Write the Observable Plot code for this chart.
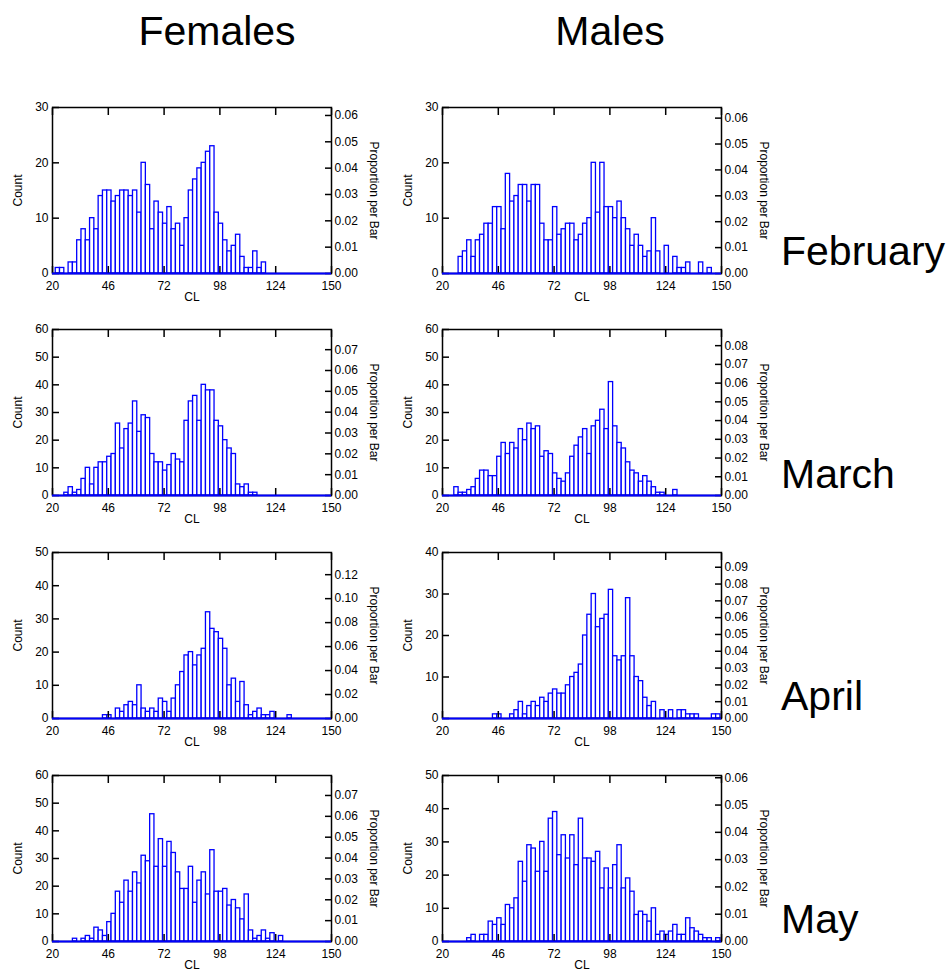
<!DOCTYPE html>
<html>
<head>
<meta charset="utf-8">
<script src="https://cdn.jsdelivr.net/npm/d3@7"></script>
<script src="https://cdn.jsdelivr.net/npm/@observablehq/plot@0.6"></script>
<style>
  body { margin: 0; background: #fff; }
  #root { position: relative; width: 946px; height: 974px; overflow: hidden; background: #fff;
          font-family: "Liberation Sans", Arial, sans-serif; }
  .panel { position: absolute; }
  .panel svg { background: transparent !important; }
  #labels { position: absolute; left: 0; top: 0; pointer-events: none; }
</style>
</head>
<body>
<div id="root"></div>
<script>
// ---- data (counts per 2-unit CL bin) ----
const binEdges = [21.5,23.5,25.5,27.5,29.5,31.5,33.5,35.5,37.5,39.5,41.5,43.5,45.5,47.5,49.5,51.5,
  53.5,55.5,57.5,59.5,61.5,63.5,65.5,67.5,69.5,71.5,73.5,75.5,77.5,79.5,81.5,83.5,85.5,87.5,89.5,
  91.5,93.5,95.5,97.5,99.5,101.5,103.5,105.5,107.5,109.5,111.5,113.5,115.5,117.5,119.5,121.5,123.5,
  125.5,127.5,129.5,131.5,133.5,135.5,137.5,139.5,141.5,143.5,145.5,147.5,149.5];

const femFeb = [1,1,0,2,2,6,8,6,10,8, 14,15,15,13,14,15,15,14,15,11, 20,16,8,13,11,9,12,8,9,5,
  10,15,17,19,20,22,23,11,9,6, 4,5,7,3,1,1,4,1,2,0, 0,0,0,0,0,0,0,0,0,0, 0,0,0,0];
const malFeb = [0,0,0,3,4,6,3,6,7,9, 9,12,12,8,18,13,14,16,16,13, 16,16,9,6,6,12,7,8,9,9,
  6,7,9,10,20,11,20,12,12,10, 13,10,8,5,7,5,3,4,10,4, 0,5,0,3,1,1,2,0,0,2, 0,1,0,0];
const femMar = [0,0,1,3,1,2,6,10,4,10, 12,12,14,15,26,17,24,26,34,23, 29,28,15,12,12,9,11,15,13,12,
  27,34,36,27,40,38,38,27,25,20, 17,15,4,3,4,1,1,0,0,0, 0,0,0,0,0,0,0,0,0,0, 0,0,0,0];
const malMar = [0,0,3,1,1,2,3,6,9,9, 7,7,14,19,15,19,17,24,20,26, 24,25,14,16,15,8,6,5,8,14,
  18,21,24,15,25,27,31,24,41,25, 19,17,12,9,8,5,7,5,3,1, 1,0,0,2,0,0,0,0,0,0, 0,0,0,0];
const femApr = [0,0,0,0,0,0,0,0,0,0, 0,1,1,0,3,2,4,5,4,10, 3,2,3,2,6,5,2,6,10,14,
  19,20,16,19,21,32,27,26,24,21, 10,12,5,11,4,1,2,3,1,1, 2,0,0,0,1,0,0,0,0,0, 0,0,0,0];
const malApr = [0,0,0,0,0,0,0,0,0,0, 0,1,1,0,0,1,2,4,1,3, 4,3,5,4,6,7,6,6,8,10,
  11,13,20,25,30,22,24,25,31,15, 14,15,29,15,10,9,5,3,4,0, 2,0,2,0,2,2,1,1,1,0, 0,0,1,1];
const femMay = [0,0,0,0,1,0,1,2,1,5, 4,2,7,10,18,14,22,18,25,21, 31,29,46,27,37,27,36,32,25,19,
  19,27,14,22,25,17,33,18,18,19, 13,15,12,8,17,4,1,2,4,1, 3,0,2,0,0,0,0,0,0,0, 0,0,0,0];
const malMay = [0,0,0,0,0,1,2,0,2,2, 6,5,7,5,11,10,13,24,18,29, 28,21,30,21,37,39,26,32,25,32,
  23,37,25,25,24,27,16,22,16,23, 29,16,19,15,8,9,8,6,10,2, 3,2,3,5,2,2,7,4,3,2, 1,1,0,1];

// ---- tick labels ----
const xTicks = [20, 46, 72, 98, 124, 150];
const xDomain = [20, 150];
const count30 = [0, 10, 20, 30];
const count40 = [0, 10, 20, 30, 40];
const count50 = [0, 10, 20, 30, 40, 50];
const count60 = [0, 10, 20, 30, 40, 50, 60];
const prop06 = [0, 0.01, 0.02, 0.03, 0.04, 0.05, 0.06];
const prop07 = [0, 0.01, 0.02, 0.03, 0.04, 0.05, 0.06, 0.07];
const prop08 = [0, 0.01, 0.02, 0.03, 0.04, 0.05, 0.06, 0.07, 0.08];
const prop09 = [0, 0.01, 0.02, 0.03, 0.04, 0.05, 0.06, 0.07, 0.08, 0.09];
const prop12 = [0, 0.02, 0.04, 0.06, 0.08, 0.10, 0.12];

const columns = ["Females", "Males"];
const months = ["February", "March", "April", "May"];

const panels = [
  {counts: femFeb, yTicks: count30, pTicks: prop06, row: 0, col: 0},
  {counts: malFeb, yTicks: count30, pTicks: prop06, row: 0, col: 1},
  {counts: femMar, yTicks: count60, pTicks: prop07, row: 1, col: 0},
  {counts: malMar, yTicks: count60, pTicks: prop08, row: 1, col: 1},
  {counts: femApr, yTicks: count50, pTicks: prop12, row: 2, col: 0},
  {counts: malApr, yTicks: count40, pTicks: prop09, row: 2, col: 1},
  {counts: femMay, yTicks: count60, pTicks: prop07, row: 3, col: 0},
  {counts: malMay, yTicks: count50, pTicks: prop06, row: 3, col: 1},
];

// ---- layout ----
const FONT = '"Liberation Sans", Arial, sans-serif';
const BLUE = "#0000ff";
const rowTops = [107, 329, 552, 775];
const colLefts = [52, 442];
const M = {left: 52, right: 52, top: 10, bottom: 32};
const plotW = 279, plotH = 166;

const root = document.getElementById("root");

function makePanel(p) {
  const N = d3.sum(p.counts);
  const bins = p.counts.map((c, i) => ({x1: binEdges[i], x2: binEdges[i + 1], count: c}));
  const yMax = p.yTicks[p.yTicks.length - 1];
  return Plot.plot({
    width: M.left + plotW + M.right,
    height: M.top + plotH + M.bottom,
    marginLeft: M.left, marginRight: M.right, marginTop: M.top, marginBottom: M.bottom,
    style: {fontFamily: FONT, fontSize: "12px", color: "black", background: "transparent", overflow: "visible"},
    x: {domain: xDomain},
    y: {domain: [0, yMax]},
    marks: [
      Plot.rectY(bins, {x1: "x1", x2: "x2", y: "count", fill: "white", stroke: BLUE, strokeWidth: 1.3, inset: 0}),
      Plot.frame({stroke: "black", strokeWidth: 1.5}),
      Plot.axisX({anchor: "bottom", ticks: xTicks, tickSize: -7, tickPadding: 15, strokeWidth: 1.5,
                  tickFormat: d => String(d), label: null, fontSize: 12}),
      Plot.axisX({anchor: "top", ticks: xTicks, tickSize: -7, strokeWidth: 1.5, tickFormat: () => "", label: null}),
      Plot.axisY({anchor: "left", ticks: p.yTicks, tickSize: -7, tickPadding: 11, strokeWidth: 1.5,
                  tickFormat: d => String(d), label: null, fontSize: 12}),
      Plot.axisY({anchor: "right", ticks: p.pTicks.map(v => v * N), tickSize: -7, tickPadding: 10, strokeWidth: 1.5,
                  tickFormat: d => (d / N).toFixed(2), label: null, fontSize: 12}),
      Plot.ruleY([0], {stroke: BLUE, strokeWidth: 2}),
      Plot.text(["Count"], {text: d => d, frameAnchor: "left", rotate: -90, dx: -34, fontSize: 12, textAnchor: "middle", lineAnchor: "middle"}),
      Plot.text(["Proportion per Bar"], {text: d => d, frameAnchor: "right", rotate: 90, dx: 42, fontSize: 12, textAnchor: "middle", lineAnchor: "middle"}),
      Plot.text(["CL"], {text: d => d, frameAnchor: "bottom", dy: 24, fontSize: 12, textAnchor: "middle", lineAnchor: "middle"})
    ]
  });
}

for (const p of panels) {
  const div = document.createElement("div");
  div.className = "panel";
  div.style.left = (colLefts[p.col] - M.left) + "px";
  div.style.top = (rowTops[p.row] - M.top) + "px";
  div.appendChild(makePanel(p));
  root.appendChild(div);
}

// ---- column titles and month labels (real text) ----
const svgNS = "http://www.w3.org/2000/svg";
const lab = document.createElementNS(svgNS, "svg");
lab.setAttribute("id", "labels");
lab.setAttribute("width", 946);
lab.setAttribute("height", 974);
const colCenters = [217, 610];
columns.forEach((t, i) => {
  const el = document.createElementNS(svgNS, "text");
  el.setAttribute("x", colCenters[i]);
  el.setAttribute("y", 45);
  el.setAttribute("text-anchor", "middle");
  el.setAttribute("font-family", FONT);
  el.setAttribute("font-size", 41);
  el.textContent = t;
  lab.appendChild(el);
});
const monthBaselines = [265, 488, 710, 933];
months.forEach((t, i) => {
  const el = document.createElementNS(svgNS, "text");
  el.setAttribute("x", 781);
  el.setAttribute("y", monthBaselines[i]);
  el.setAttribute("font-family", FONT);
  el.setAttribute("font-size", 41);
  el.textContent = t;
  lab.appendChild(el);
});
root.appendChild(lab);
</script>
</body>
</html>
